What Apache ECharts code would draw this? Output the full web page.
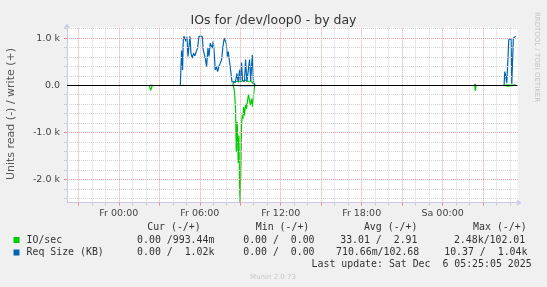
<!DOCTYPE html>
<html><head><meta charset="utf-8">
<script src="https://cdn.jsdelivr.net/npm/echarts@6/dist/echarts.min.js"></script>
<style>html,body{margin:0;padding:0;background:#f0f0f0;}#c{width:547px;height:287px;}</style>
</head><body><div id="c"></div>
<script>
// ---- axes (hours relative to Fr 00:00) ----
const X_MIN = -3.84, X_MAX = 29.55;
const Y_MIN = -2490, Y_MAX = 1225;
const xTickLabelHours = [0, 6, 12, 18, 24];
const xTickLabels = ['Fr 00:00', 'Fr 06:00', 'Fr 12:00', 'Fr 18:00', 'Sa 00:00'];
const yTickLabelValues = [-2000, -1000, 0, 1000];
const yTickLabels = ['-2.0 k', '-1.0 k', '0.0', '1.0 k'];

// ---- data ----
// IO/sec read (drawn negative)
const ioReadHours  = [2.259, 2.356, 2.459, 2.519, 8.481, 8.578, 8.652, 8.704, 8.778, 8.852, 8.904, 8.948, 8.985, 9.037, 9.096, 9.148, 9.2, 9.244, 9.319, 9.393, 9.467, 9.541, 9.615, 9.689, 9.763, 9.837, 9.911, 9.985, 10.074, 26.37, 26.43, 26.48, 26.556, 28.6, 28.67, 28.81, 28.89, 29.42];
const ioReadValues = [0, -110, -20, 0, 0, -143, -498, -1419, -781, -1650, -1064, -2057, -2480, -1915, -851, -638, -711, -462, -638, -391, -498, -319, -200, -319, -420, -280, -455, -200, 0, 0, -120, -10, 0, 0, -15, -20, 0, 0];
// IO/sec write (positive)
const ioWriteHours  = [4.741, 4.793, 4.852, 8.444, 8.519, 8.63, 8.778, 8.926, 9.074, 9.222, 9.37, 9.519, 9.667, 9.815, 9.963, 10.074, 26.4, 26.43, 26.46, 28.556, 28.63, 28.78, 29.42];
const ioWriteValues = [0, 25, 0, 0, 70, 90, 85, 100, 80, 95, 110, 90, 100, 85, 90, 0, 0, 15, 0, 0, 8, 2, 1];
// Req Size read (drawn negative)
const reqReadHours  = [2.3, 2.356, 2.46, 8.5, 8.6, 9.0, 9.5, 10.0, 10.1, 26.4, 26.43, 26.5];
const reqReadValues = [0, -8, 0, 0, -9, -10, -8, -6, 0, 0, -10, 0];
// Req Size write (positive)
const reqWriteHours  = [4.56, 4.652, 4.726, 4.778, 4.83, 4.904, 4.978, 5.052, 5.126, 5.2, 5.274, 5.348, 5.444, 5.541, 5.644, 5.741, 5.837, 5.941, 6.089, 6.185, 6.259, 6.333, 6.407, 6.504, 6.607, 6.681, 6.778, 6.852, 6.926, 7.0, 7.074, 7.148, 7.244, 7.319, 7.422, 7.519, 7.615, 7.719, 7.815, 7.889, 7.963, 8.037, 8.111, 8.207, 8.311, 8.385, 8.481, 8.63, 8.756, 8.852, 8.948, 9.022, 9.096, 9.17, 9.319, 9.393, 9.496, 9.615, 9.689, 9.778, 9.889, 9.985, 10.111, 26.37, 26.43, 26.48, 28.556, 28.607, 28.681, 28.756, 28.83, 28.904, 29.0, 29.074, 29.126, 29.17, 29.244, 29.348, 29.42];
const reqWriteValues = [0, 736, 326, 964, 1040, 1040, 930, 1030, 609, 822, 1040, 681, 574, 681, 624, 716, 787, 1040, 1040, 1035, 751, 715, 574, 396, 787, 609, 894, 929, 787, 929, 681, 326, 396, 290, 396, 361, 539, 822, 1000, 1035, 894, 609, 716, 503, 255, 77, 40, 60, 250, 60, 326, 77, 481, 100, 80, 545, 77, 362, 545, 90, 640, 55, 0, 0, 30, 0, 0, 290, 183, 43, 10, 964, 980, 990, 30, 10, 1000, 1020, 1040];

// ---- legend texts ----
const legendHeaders = ['Cur (-/+)', 'Min (-/+)', 'Avg (-/+)', 'Max (-/+)'];
const legendNames = ['IO/sec', 'Req Size (KB)'];
const ioCells  = ['0.00 /993.44m', '0.00 /  0.00', '33.01 /  2.91', '2.48k/102.01'];
const reqCells = ['0.00 /  1.02k', '0.00 /  0.00', '710.66m/102.68', '10.37 /  1.04k'];
const lastUpdate = 'Last update: Sat Dec  6 05:25:05 2025';

const GREEN = '#00cc00', BLUE = '#0066b3';
const zip = (a, b) => a.map((h, i) => [h, b[i]]);

// split a series into separate runs where consecutive points are far apart (idle periods)
function runs(h, v) {
  const out = []; let cur = [];
  for (let i = 0; i < h.length; i++) {
    if (cur.length && h[i] - h[i - 1] > 1) { out.push(cur); cur = []; }
    cur.push([h[i], v[i]]);
  }
  if (cur.length) out.push(cur);
  const data = [];
  out.forEach((r, i) => { if (i) data.push([r[0][0] - 0.001, null]); r.forEach(p => data.push(p)); });
  return data;
}

// grid line positions
const xMinor = [], xMajor = [], yMinor = [], yMajor = [];
for (let h = -3; h <= 29; h++) (h % 3 === 0 ? xMajor : xMinor).push(h);
for (let v = -2400; v <= 1200; v += 200) { if (v === 0) continue; (v % 1000 === 0 ? yMajor : yMinor).push(v); }

const mono = '"DejaVu Sans Mono", monospace';
const sans = '"DejaVu Sans", sans-serif';

function ml(items, color, z) {
  return {
    type: 'line', data: [], silent: true, z: z,
    markLine: {
      silent: true, symbol: ['none', 'none'], label: { show: false }, animation: false,
      lineStyle: { color: color, type: [1, 1], width: 1 },
      emphasis: { disabled: true },
      data: items
    }
  };
}
function dataSeries(h, v, color) {
  return { type: 'line', data: runs(h, v), showSymbol: false, symbol: 'none', z: 3, connectNulls: false,
    lineStyle: { color: color, width: 1.2 }, itemStyle: { color: color }, clip: true, emphasis: { disabled: true } };
}

const graphics = [];
graphics.push({ type: 'text', x: 11.5, y: 114, rotation: Math.PI / 2,
  style: { text: 'Units read (-) / write (+)', fill: '#555', font: '11px ' + sans, align: 'center', verticalAlign: 'middle' } });
graphics.push({ type: 'text', x: 537, y: 57, rotation: -Math.PI / 2,
  style: { text: 'RRDTOOL / TOBI OETIKER', fill: '#c4c4c4', font: '7px ' + sans, align: 'center', verticalAlign: 'middle' } });
const headX = [147.2, 255.8, 363.9, 473.1];
legendHeaders.forEach((t, i) => graphics.push({ type: 'text', x: headX[i], y: 227,
  style: { text: t, fill: '#333', font: '9.9px ' + mono, verticalAlign: 'middle' } }));
const rowY = [240, 252.5];
[GREEN, BLUE].forEach((c, i) => graphics.push({ type: 'rect', shape: { x: 13.5, y: rowY[i] - 3, width: 6, height: 6 }, style: { fill: c } }));
legendNames.forEach((t, i) => graphics.push({ type: 'text', x: 26.5, y: rowY[i],
  style: { text: t, fill: '#333', font: '9.9px ' + mono, verticalAlign: 'middle' } }));
const ioX = [137.1, 243.2, 340.2, 453.9];
const reqX = [137.1, 243.2, 336, 444.2];
ioCells.forEach((t, i) => graphics.push({ type: 'text', x: ioX[i], y: rowY[0],
  style: { text: t, fill: '#333', font: '9.9px ' + mono, verticalAlign: 'middle' } }));
reqCells.forEach((t, i) => graphics.push({ type: 'text', x: reqX[i], y: rowY[1],
  style: { text: t, fill: '#333', font: '9.9px ' + mono, verticalAlign: 'middle' } }));
graphics.push({ type: 'text', x: 311.6, y: 264.5,
  style: { text: lastUpdate, fill: '#333', font: '9.9px ' + mono, verticalAlign: 'middle' } });
graphics.push({ type: 'text', x: 273, y: 277,
  style: { text: 'Munin 2.0.73', fill: '#c8c8c8', font: '7px ' + sans, align: 'center', verticalAlign: 'middle' } });

const AXC = '#c8c8e8';
const chart = echarts.init(document.getElementById('c'), null, { renderer: 'canvas' });
chart.setOption({
  animation: false,
  backgroundColor: '#f0f0f0',
  title: { text: 'IOs for /dev/loop0 - by day', left: 'center', top: 9,
    textStyle: { fontFamily: sans, fontSize: 12.5, fontWeight: 'normal', color: '#333' } },
  grid: { left: 67, top: 27.5, width: 450.5, height: 175.2, show: true, backgroundColor: '#ffffff', borderWidth: 0 },
  xAxis: [
    { type: 'value', min: X_MIN, max: X_MAX,
      axisLine: { show: true, onZero: false, lineStyle: { color: AXC, width: 1 }, symbol: ['none', 'arrow'], symbolSize: [5, 5], symbolOffset: [0, 4] },
      axisTick: { show: true, customValues: xMajor, length: 3, lineStyle: { color: '#e59090' } },
      axisLabel: { show: true, customValues: xTickLabelHours, margin: 6, color: '#444', fontFamily: sans, fontSize: 9.5,
        formatter: v => xTickLabels[xTickLabelHours.indexOf(Math.round(v))] || '' },
      splitLine: { show: false } },
    { type: 'value', min: X_MIN, max: X_MAX, position: 'bottom',
      axisLine: { show: false, onZero: false },
      axisTick: { show: true, customValues: xMinor, length: 3, lineStyle: { color: '#cccccc' } },
      axisLabel: { show: false }, splitLine: { show: false } }
  ],
  yAxis: [
    { type: 'value', min: Y_MIN, max: Y_MAX,
      axisLine: { show: true, onZero: false, lineStyle: { color: AXC, width: 1 }, symbol: ['none', 'arrow'], symbolSize: [5, 5], symbolOffset: [0, 4] },
      axisTick: { show: true, customValues: yMajor, length: 3, lineStyle: { color: '#e59090' } },
      axisLabel: { show: true, customValues: yTickLabelValues, margin: 7, color: '#444', fontFamily: sans, fontSize: 9.5,
        formatter: v => yTickLabels[yTickLabelValues.indexOf(Math.round(v))] || '' },
      splitLine: { show: false } },
    { type: 'value', min: Y_MIN, max: Y_MAX, position: 'left',
      axisLine: { show: false, onZero: false },
      axisTick: { show: true, customValues: yMinor, length: 3, lineStyle: { color: '#cccccc' } },
      axisLabel: { show: false }, splitLine: { show: false } }
  ],
  series: [
    ml(xMinor.map(h => ({ xAxis: h })).concat(yMinor.map(v => ({ yAxis: v }))), '#d4d4d4', 1),
    ml(xMajor.map(h => ({ xAxis: h })).concat(yMajor.map(v => ({ yAxis: v }))), '#e8a0a0', 2),
    { type: 'line', data: [], silent: true, z: 2,
      markLine: { silent: true, symbol: ['none', 'none'], label: { show: false }, animation: false,
        lineStyle: { color: '#000000', type: 'solid', width: 1 }, emphasis: { disabled: true }, data: [{ yAxis: 0 }] } },
    dataSeries(ioReadHours, ioReadValues, GREEN),
    dataSeries(ioWriteHours, ioWriteValues, GREEN),
    dataSeries(reqReadHours, reqReadValues, BLUE),
    dataSeries(reqWriteHours, reqWriteValues, BLUE)
  ],
  graphic: graphics
});
</script>
</body></html>
